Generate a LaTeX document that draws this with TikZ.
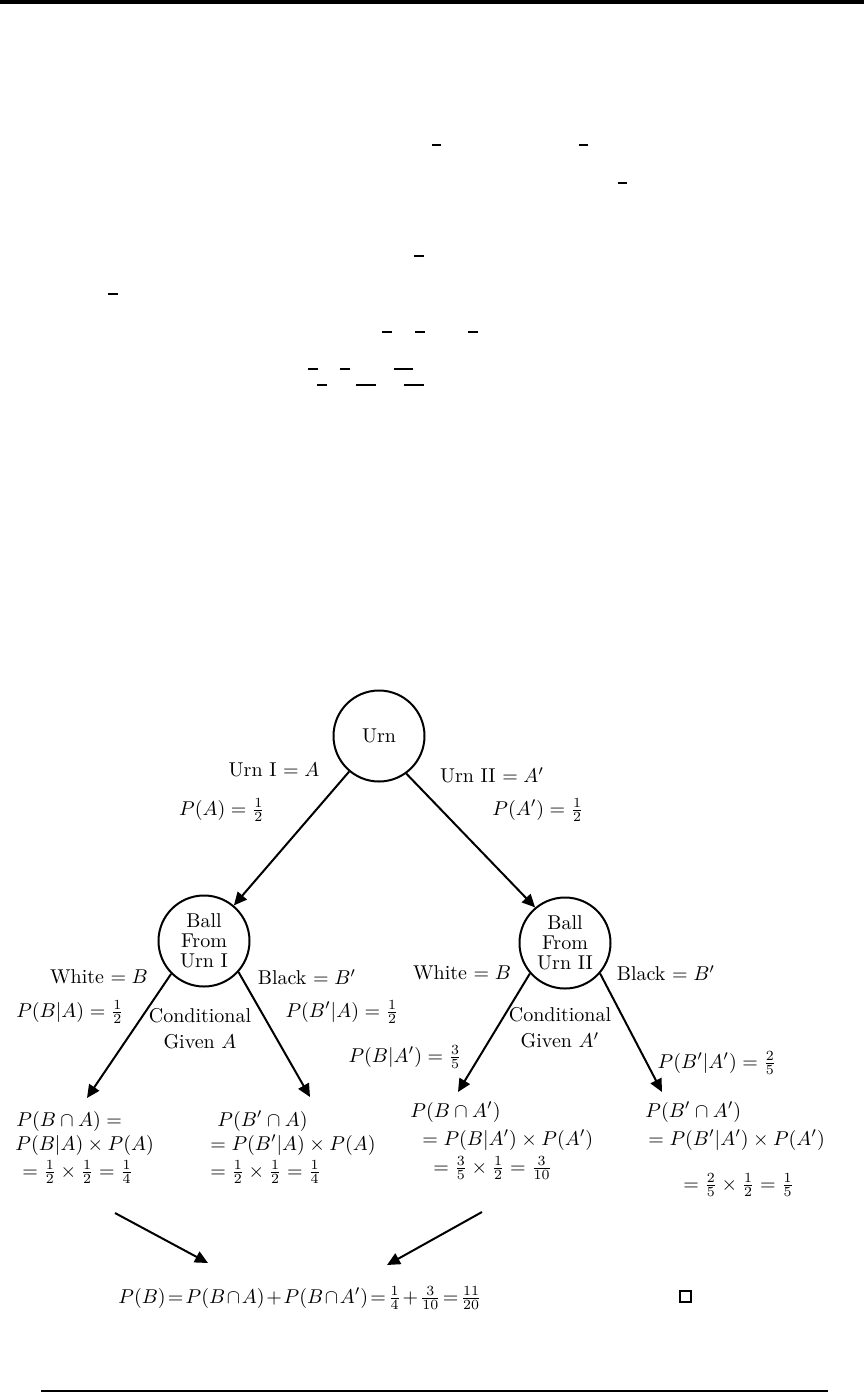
\documentclass[tikz,border=0pt]{standalone}
\usetikzlibrary{arrows.meta}
\begin{document}
\begin{tikzpicture}[x=0.5pt,y=-0.5pt,
  every node/.style={font=\fontsize{10}{10}\selectfont, inner sep=0pt},
  state/.style={draw, circle, line width=1pt, minimum size=45.5pt, align=center},
  cond/.style={align=center, font=\fontsize{10}{13}\selectfont},
  edge/.style={line width=1pt, -{Triangle[length=6.5pt,width=6pt]}},
  bar/.style={line width=0.7pt},
  rule/.style={line width=0.75pt}]
\useasboundingbox (0,0) rectangle (864,1394);
% page rules
\fill (0,0) rectangle (864,3.5);
\draw[rule] (41,1391) -- (828,1391);
% stray fraction bars
\foreach \a/\b/\y in {432/441/145, 579/588/145, 618/627/183, 414/424/256, 108/118/294,
  382/392/332, 415/425/332, 468/478/332, 308/318/369, 340/350/369, 394/413/369,
  317/327/385, 356/376/385, 404/424/385}
  \draw[bar] (\a,\y) -- (\b,\y);
% tree nodes
\node[state] (urn) at (379,736) {Urn};
\node[state] (ball1) at (204,941) {Ball\\From\\Urn I};
\node[state] (ball2) at (565,943) {Ball\\From\\Urn II};
% labels on first level
\node (lA) at (274,770) {Urn I $= A$};
\node (pA) at (222,810) {$P(A) = \frac{1}{2}$};
\node (lAp) at (492,775) {Urn II $= A'$};
\node (pAp) at (538,810) {$P(A') = \frac{1}{2}$};
% labels on second level, left
\node (w1) at (99,977) {White $= B$};
\node (pw1) at (70,1012) {$P(B|A) = \frac{1}{2}$};
\node (k1) at (307,977) {Black $= B'$};
\node (pk1) at (342,1012) {$P(B'|A) = \frac{1}{2}$};
\node[cond] (c1) at (200,1029) {Conditional\\Given $A$};
% labels on second level, right
\node (w2) at (462,973) {White $= B$};
\node (k2) at (666,973) {Black $= B'$};
\node[cond] (c2) at (560,1028) {Conditional\\Given $A'$};
\node (pw2) at (405,1057) {$P(B|A') = \frac{3}{5}$};
\node (pk2) at (717,1063) {$P(B'|A') = \frac{2}{5}$};
% leaves
\node[anchor=west] (l1a) at (16,1121) {$P(B\cap A) =$};
\node[anchor=west] (l1b) at (15,1145) {$P(B|A)\times P(A)$};
\node[anchor=west] (l1c) at (22,1172) {$= \frac{1}{2}\times\frac{1}{2} = \frac{1}{4}$};
\node[anchor=west] (l2a) at (217,1121) {$P(B'\cap A)$};
\node[anchor=west] (l2b) at (210,1145) {$= P(B'|A)\times P(A)$};
\node[anchor=west] (l2c) at (210,1172) {$= \frac{1}{2}\times\frac{1}{2} = \frac{1}{4}$};
\node[anchor=west] (l3a) at (410,1112) {$P(B\cap A')$};
\node[anchor=west] (l3b) at (422,1140) {$= P(B|A')\times P(A')$};
\node[anchor=west] (l3c) at (433,1168) {$= \frac{3}{5}\times\frac{1}{2} = \frac{3}{10}$};
\node[anchor=west] (l4a) at (645,1112) {$P(B'\cap A')$};
\node[anchor=west] (l4b) at (648,1140) {$= P(B'|A')\times P(A')$};
\node[anchor=west] (l4c) at (683,1185) {$= \frac{2}{5}\times\frac{1}{2} = \frac{1}{5}$};
% result
\node[anchor=west] (res) at (118,1298) {\thickmuskip=2mu\medmuskip=1.5mu$P(B) = P(B\cap A) + P(B\cap A') = \frac{1}{4} + \frac{3}{10} = \frac{11}{20}$};
\draw[line width=1.3pt] (680,1291) rectangle (691,1302);
% free ends
\coordinate (t1) at (87,1098);
\coordinate (t2) at (310,1097);
\coordinate (t3) at (458,1092);
\coordinate (t4) at (662,1092);
\coordinate (s1) at (115,1213);
\coordinate (r1) at (208,1263);
\coordinate (s2) at (482,1212);
\coordinate (r2) at (387,1265);
% connectors
\draw[edge] (urn.230) -- (ball1.50);
\draw[edge] (urn.306) -- (ball2.130);
\draw[edge] (ball1.225) -- (t1);
\draw[edge] (ball1.318) -- (t2);
\draw[edge] (ball2.221) -- (t3);
\draw[edge] (ball2.319) -- (t4);
\draw[edge] (s1) -- (r1);
\draw[edge] (s2) -- (r2);
\end{tikzpicture}
\end{document}
